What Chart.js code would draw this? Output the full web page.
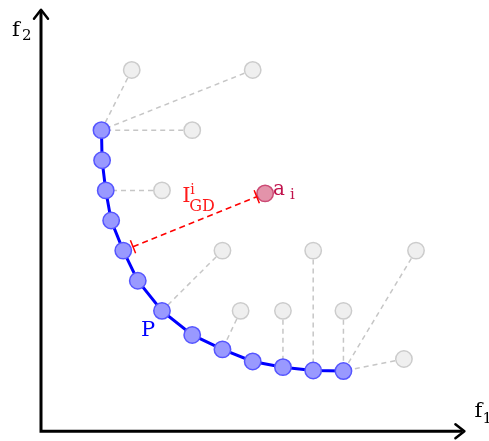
<!DOCTYPE html>
<html>
<head>
<meta charset="utf-8">
<title>Pareto front and IGD distance</title>
<script src="https://cdn.jsdelivr.net/npm/chart.js@4.4.1/dist/chart.umd.min.js"></script>
<style>
  html, body { margin: 0; padding: 0; background: #fff; }
  #wrap { width: 489px; height: 441px; }
</style>
</head>
<body>
<div id="wrap"><canvas id="chart" width="489" height="441"></canvas></div>
<script>
// Pareto front P (blue), candidate solutions (gray) and the point a_i
const frontX = [2.0, 2.02, 2.14, 2.32, 2.72, 3.2, 4.0, 5.0, 6.0, 7.0, 8.0, 9.0, 10.0];
const frontY = [10.0, 9.0, 8.0, 7.0, 6.0, 5.0, 4.0, 3.2, 2.72, 2.32, 2.13, 2.02, 2.0];

const solX = [3, 7, 5, 4, 6, 9, 12.4, 6.6, 8, 10, 12];
const solY = [12, 12, 10, 8, 6, 6, 6, 4, 4, 4, 2.4];
// index of the front point each solution is linked to
const solLink = [0, 0, 0, 2, 6, 11, 12, 8, 10, 12, 12];

const aX = [7.41];
const aY = [7.9];
const aLink = 4; // front point the IGD distance is measured from

const axisMax = 14;

const frontPts = frontX.map((x, i) => ({ x, y: frontY[i] }));
const solPts = solX.map((x, i) => ({ x, y: solY[i] }));
const aPts = aX.map((x, i) => ({ x, y: aY[i] }));

const linkSets = solPts.map((p, i) => ({
  type: 'line',
  data: [p, frontPts[solLink[i]]],
  borderColor: '#c6c6c6',
  borderWidth: 1.5,
  borderDash: [5, 4],
  pointRadius: 0,
  showLine: true,
  order: 10
}));

// axes with arrow heads, the IGD measure line and all labels
const overlay = {
  id: 'overlay',
  afterDatasetsDraw(chart) {
    const { ctx } = chart;
    const sx = chart.scales.x, sy = chart.scales.y;
    const ox = sx.getPixelForValue(0), oy = sy.getPixelForValue(0);
    const tx = sx.getPixelForValue(axisMax), ty = sy.getPixelForValue(axisMax);

    ctx.save();
    ctx.strokeStyle = '#000';
    ctx.lineWidth = 3;
    ctx.lineJoin = 'miter';
    ctx.beginPath();
    ctx.moveTo(ox, ty + 2);
    ctx.lineTo(ox, oy);
    ctx.lineTo(tx - 2, oy);
    ctx.stroke();

    ctx.lineWidth = 2.5;
    ctx.lineCap = 'round';
    ctx.lineJoin = 'round';
    ctx.beginPath();
    ctx.moveTo(ox - 7, ty + 9);
    ctx.lineTo(ox, ty);
    ctx.lineTo(ox + 7, ty + 9);
    ctx.moveTo(tx - 9, oy - 7);
    ctx.lineTo(tx, oy);
    ctx.lineTo(tx - 9, oy + 7);
    ctx.stroke();
    ctx.restore();

    // dashed distance from the front to a_i, with end bars
    const p0 = frontPts[aLink];
    const x0 = sx.getPixelForValue(p0.x), y0 = sy.getPixelForValue(p0.y);
    const x1 = sx.getPixelForValue(aPts[0].x), y1 = sy.getPixelForValue(aPts[0].y);
    const len = Math.hypot(x1 - x0, y1 - y0);
    const ux = (x1 - x0) / len, uy = (y1 - y0) / len;
    const sxp = x0 + ux * 10.5, syp = y0 + uy * 10.5;
    const exp = x1 - ux * 9, eyp = y1 - uy * 9;
    const nx = -uy, ny = ux;

    ctx.save();
    ctx.strokeStyle = '#ff0000';
    ctx.lineWidth = 1.5;
    ctx.setLineDash([6, 4]);
    ctx.beginPath();
    ctx.moveTo(sxp, syp);
    ctx.lineTo(exp, eyp);
    ctx.stroke();
    ctx.setLineDash([]);
    ctx.beginPath();
    ctx.moveTo(sxp - nx * 7, syp - ny * 7);
    ctx.lineTo(sxp + nx * 7, syp + ny * 7);
    ctx.moveTo(exp - nx * 7, eyp - ny * 7);
    ctx.lineTo(exp + nx * 7, eyp + ny * 7);
    ctx.stroke();
    ctx.restore();

    const serif = '"DejaVu Serif", "Liberation Serif", serif';
    const text = (s, x, y, size, color) => {
      ctx.font = size + 'px ' + serif;
      ctx.fillStyle = color;
      ctx.fillText(s, x, y);
    };

    ctx.save();
    ctx.textBaseline = 'alphabetic';
    ctx.textAlign = 'left';

    // axis names
    text('f', ox - 29, ty + 26, 21, '#000');
    text('2', ox - 19, ty + 30, 15, '#000');
    text('f', tx + 10, oy - 14, 21, '#000');
    text('1', tx + 18, oy - 8, 15, '#000');

    // front label
    const pp = frontPts[6];
    const px = sx.getPixelForValue(pp.x), py = sy.getPixelForValue(pp.y);
    text('P', px - 21, py + 25, 21, '#0000ff');

    // IGD label near the middle of the measure line
    const mx = (x0 + x1) / 2, my = (y0 + y1) / 2;
    text('I', mx - 12, my - 20, 21, '#ff1a1a');
    text('i', mx - 4, my - 28, 14, '#ff1a1a');
    text('GD', mx - 5, my - 11, 16, '#ff1a1a');

    // a_i label
    text('a', x1 + 8, y1 + 2, 20, '#c0124c');
    text('i', x1 + 25, y1 + 6, 15, '#c0124c');
    ctx.restore();
  }
};

new Chart(document.getElementById('chart'), {
  type: 'scatter',
  data: {
    datasets: [
      ...linkSets,
      {
        label: 'solutions',
        data: solPts,
        backgroundColor: '#efefef',
        borderColor: '#cccccc',
        borderWidth: 1.5,
        pointRadius: 8.2,
        order: 5
      },
      {
        label: 'a_i',
        data: aPts,
        backgroundColor: '#e393aa',
        borderColor: '#cc4a74',
        borderWidth: 1.5,
        pointRadius: 8.2,
        order: 4
      },
      {
        label: 'P',
        type: 'line',
        data: frontPts,
        showLine: true,
        borderColor: '#0000ff',
        borderWidth: 3,
        tension: 0,
        backgroundColor: '#9999ff',
        pointBackgroundColor: '#9999ff',
        pointBorderColor: '#5555ff',
        pointBorderWidth: 1.5,
        pointRadius: 8.2,
        order: 1
      }
    ]
  },
  options: {
    responsive: false,
    animation: false,
    events: [],
    layout: { padding: { left: 41, right: 24.6, top: 9.6, bottom: 8 } },
    plugins: { legend: { display: false }, tooltip: { enabled: false } },
    scales: {
      x: { type: 'linear', min: 0, max: axisMax, display: false },
      y: { type: 'linear', min: 0, max: axisMax, display: false }
    }
  },
  plugins: [overlay]
});
</script>
</body>
</html>
